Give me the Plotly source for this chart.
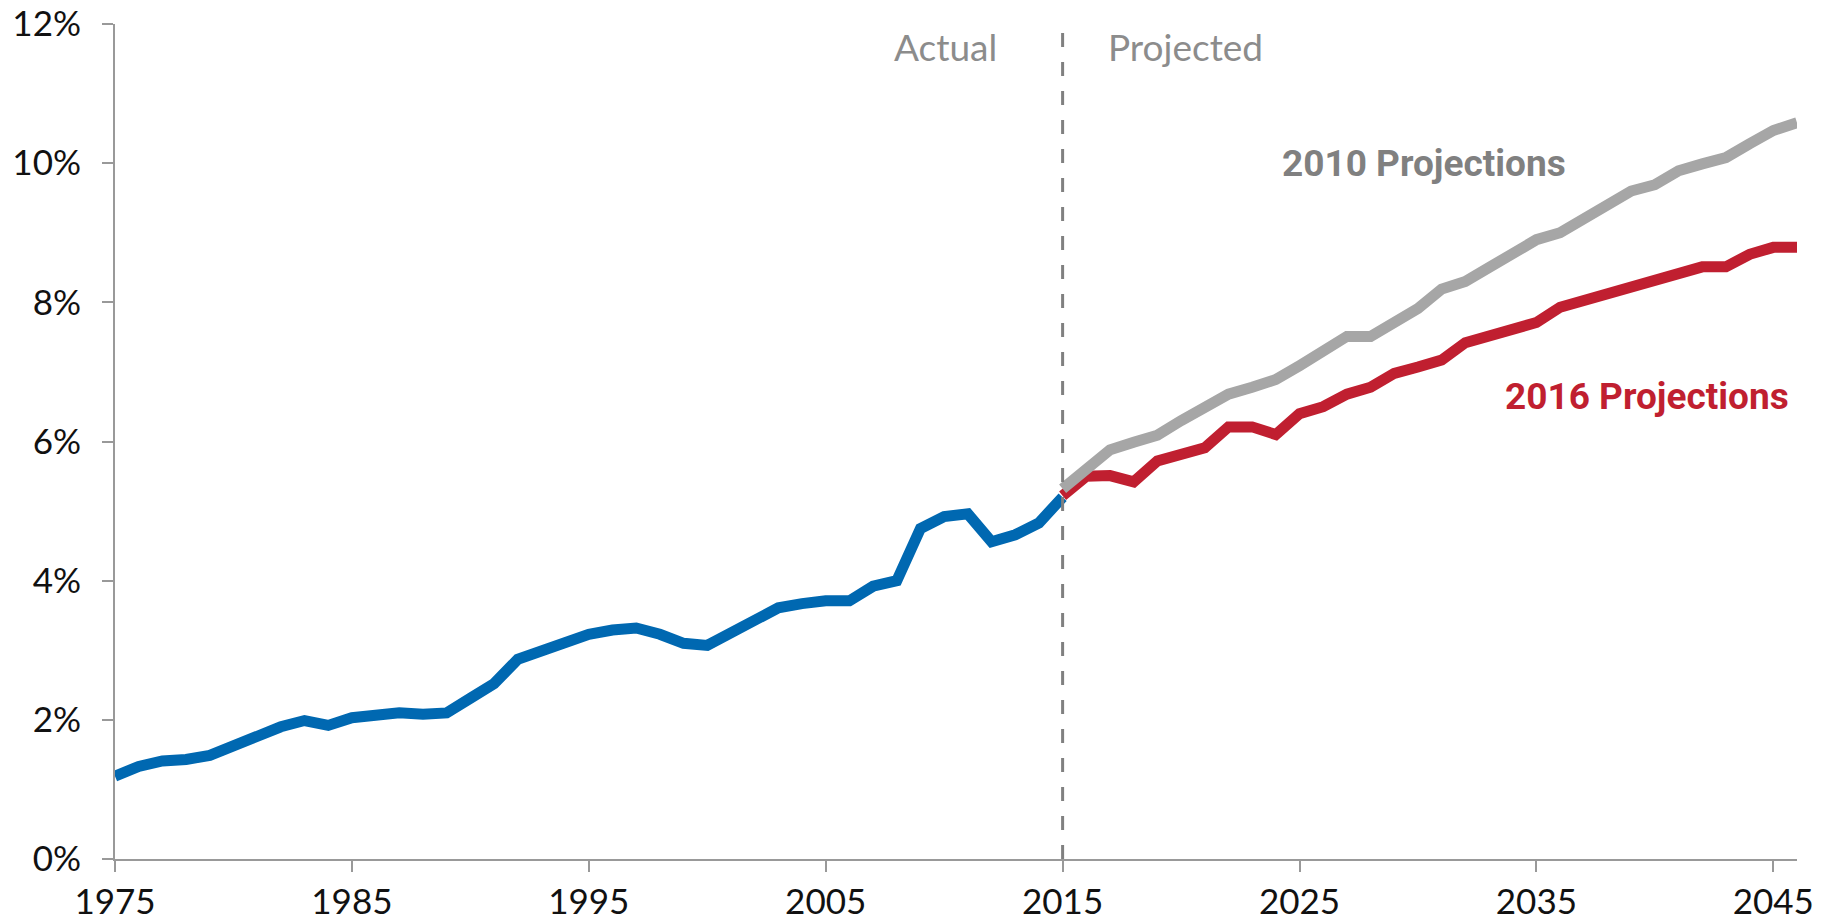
import plotly.graph_objects as go

# ---- data ----
actual_years = list(range(1975, 2016))
actual_vals = [1.19, 1.33, 1.41, 1.43, 1.49, 1.63, 1.76, 1.90, 1.99, 1.92,
               2.03, 2.06, 2.10, 2.08, 2.10, 2.31, 2.52, 2.87, 3.00, 3.10,
               3.23, 3.29, 3.32, 3.23, 3.10, 3.07, 3.26, 3.45, 3.61, 3.67,
               3.71, 3.71, 3.92, 4.00, 4.75, 4.92, 4.96, 4.56, 4.66, 4.83,
               5.20]

proj_years = list(range(2015, 2047))
proj2016_vals = [5.22, 5.50, 5.51, 5.42, 5.72, 5.81, 5.91, 6.21, 6.21, 6.10,
                 6.40, 6.50, 6.68, 6.78, 6.98, 7.07, 7.17, 7.42, 7.52, 7.62,
                 7.71, 7.93, 8.02, 8.12, 8.22, 8.31, 8.41, 8.51, 8.51, 8.69,
                 8.79, 8.79]
proj2010_vals = [5.32, 5.58, 5.88, 5.99, 6.09, 6.30, 6.49, 6.68, 6.78, 6.89,
                 7.09, 7.30, 7.51, 7.51, 7.70, 7.91, 8.19, 8.30, 8.50, 8.71,
                 8.90, 9.00, 9.21, 9.41, 9.60, 9.69, 9.89, 9.99, 10.08, 10.28,
                 10.47, 10.58]

x_ticks = [1975, 1985, 1995, 2005, 2015, 2025, 2035, 2045]
y_ticks = [0, 2, 4, 6, 8, 10, 12]
y_tick_labels = ["0%", "2%", "4%", "6%", "8%", "10%", "12%"]

BLUE = "#0068b1"
RED = "#c01f30"
GREY = "#a6a6a6"

fig = go.Figure()
fig.add_trace(go.Scatter(x=actual_years, y=actual_vals, mode="lines",
                         line=dict(color=BLUE, width=11), showlegend=False))
fig.add_trace(go.Scatter(x=proj_years, y=proj2016_vals, mode="lines",
                         line=dict(color=RED, width=11), showlegend=False))
fig.add_trace(go.Scatter(x=proj_years, y=proj2010_vals, mode="lines",
                         line=dict(color=GREY, width=11), showlegend=False))

fig.add_shape(type="line", x0=2015, x1=2015, y0=0, y1=12, xref="x", yref="y",
              line=dict(color="#808080", width=3, dash="14px,15px"),
              layer="above")

tick_font = dict(family="Lato, 'Open Sans', sans-serif", size=35, color="#111111")
light_font = dict(family="Lato, 'Open Sans', sans-serif", size=37, color="#8c8c8c",
                  weight=400)
bold_font = "Roboto, sans-serif"

fig.add_annotation(x=2012.3, y=11.67, text="Actual", showarrow=False,
                   xanchor="right", yanchor="middle", font=light_font)
fig.add_annotation(x=2016.85, y=11.67, text="Projected", showarrow=False,
                   xanchor="left", yanchor="middle", font=light_font)
fig.add_annotation(x=2030.25, y=9.99, text="<b>2010 Projections</b>", showarrow=False,
                   xanchor="center", yanchor="middle",
                   font=dict(family=bold_font, size=37, color="#808080"))
fig.add_annotation(x=2045.75, y=6.64, text="<b>2016 Projections</b>", showarrow=False,
                   xanchor="right", yanchor="middle",
                   font=dict(family=bold_font, size=37, color=RED))

# the page body adds an 8px margin; offset the figure accordingly
fig.update_layout(
    width=1825, height=916,
    margin=dict(l=107, r=36, t=16, b=65),
    paper_bgcolor="white", plot_bgcolor="white",
    showlegend=False,
)
fig.update_xaxes(range=[1975, 2046], tickvals=x_ticks, showgrid=False, zeroline=False,
                 showline=True, linecolor="#999999", linewidth=2, automargin=False,
                 ticks="outside", ticklen=11, tickwidth=2, tickcolor="#999999",
                 tickfont=tick_font, ticklabelstandoff=0, ticklabeloverflow="allow")
fig.update_yaxes(range=[0, 12], tickvals=y_ticks, ticktext=y_tick_labels,
                 showgrid=False, zeroline=False, automargin=False,
                 showline=True, linecolor="#999999", linewidth=2,
                 ticks="outside", ticklen=11, tickwidth=2, tickcolor="#999999",
                 tickfont=tick_font, ticklabelstandoff=14, ticklabeloverflow="allow")

fig.write_html("out.html")
